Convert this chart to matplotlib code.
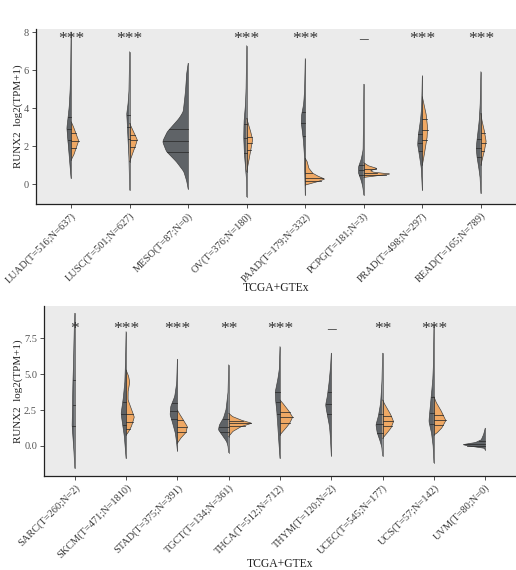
import numpy as np
import matplotlib
matplotlib.use("Agg")
import matplotlib.pyplot as plt

plt.rcParams['font.family'] = ['Liberation Serif', 'DejaVu Serif']

# ---------------- data ----------------
top_labels = ["LUAD(T=516;N=637)", "LUSC(T=501;N=627)", "MESO(T=87;N=0)", "OV(T=376;N=180)",
              "PAAD(T=179;N=332)", "PCPG(T=181;N=3)", "PRAD(T=498;N=297)", "READ(T=165;N=789)"]
top_sig = ["***", "***", "", "***", "***", "–", "***", "***"]

# tumour (grey, left half): violin outline knots (value, relative density width) and quartiles
top_tumor_y = [
    [0.3, 0.65, 1.37, 2.23, 2.93, 4.0, 4.9, 5.7, 8.0],
    [-0.32, 0.5, 1.37, 2.4, 3.1, 3.67, 4.16, 4.86, 6.96],
    [-0.26, 0.12, 0.65, 1.17, 1.7, 2.23, 2.75, 3.1, 3.46, 3.8, 4.86, 5.74, 6.35],
    [-0.67, 0.3, 0.65, 1.53, 2.4, 3.28, 4.16, 4.86, 7.28],
    [-0.58, 0.65, 1.35, 2.23, 2.75, 3.19, 3.63, 4.16, 4.86, 6.6],
    [-0.58, -0.14, 0.21, 0.56, 0.91, 1.26, 1.79, 3.1, 5.25],
    [-0.32, 0.3, 0.82, 1.44, 2.05, 2.58, 3.28, 3.98, 5.7],
    [-0.49, 0.3, 0.82, 1.35, 1.88, 2.4, 3.28, 4.16, 5.91],
]
top_tumor_w = [
    [0, 0.7, 1.7, 3.3, 4.3, 2.0, 1.0, 0.5, 0],
    [0, 0.3, 0.7, 1.7, 2.3, 3.0, 1.7, 0.7, 0],
    [0, 1.3, 4.3, 11.7, 21.7, 25.7, 21, 15, 9, 5, 2.7, 1.7, 0],
    [0, 0.3, 1.0, 2.3, 3.0, 2.7, 1.3, 0.7, 0],
    [0, 0.5, 0.7, 1.7, 3.0, 4.0, 3.7, 1.7, 0.7, 0],
    [0, 1.0, 2.7, 5.3, 5.3, 2.7, 0.7, 0.3, 0],
    [0, 0.5, 1.0, 2.7, 4.7, 4.0, 2.0, 0.7, 0],
    [0, 0.7, 2.0, 3.7, 4.7, 3.7, 1.7, 0.7, 0],
]
top_tumor_q = [[2.3, 2.9, 3.55], [2.35, 3.0, 3.65], [1.67, 2.26, 2.88], [1.61, 2.42, 3.18],
               [2.54, 3.19, 3.8], [0.5, 0.74, 1.0], [1.74, 2.14, 2.61], [1.44, 1.91, 2.35]]

# normal (orange, right half)
top_normal_y = [
    [1.26, 1.53, 1.88, 2.26, 2.75, 3.1, 3.28],
    [1.17, 1.6, 1.95, 2.32, 2.75, 3.19],
    [],
    [0.65, 1.0, 1.35, 1.88, 2.32, 2.75, 3.1, 3.46],
    [-0.05, 0.0, 0.12, 0.26, 0.39, 0.56, 0.82, 1.17, 1.35],
    [0.35, 0.42, 0.53, 0.62, 0.7, 0.82, 0.95, 1.12],
    [1.0, 1.35, 1.88, 2.4, 2.93, 3.63, 4.16, 4.6],
    [1.0, 1.35, 1.79, 2.23, 2.75, 3.28, 3.72],
]
top_normal_w = [
    [0, 2.7, 5.0, 7.7, 4.3, 1.7, 0],
    [0, 3.0, 5.5, 7.7, 4.0, 0],
    [],
    [0, 1.3, 2.7, 4.3, 6.0, 4.0, 2.0, 0],
    [0, 3.7, 12, 19.7, 13.7, 7.7, 3.7, 2.0, 0],
    [0, 12, 26.7, 10, 6.7, 13.3, 5, 0],
    [0, 1.3, 3.0, 4.7, 5.3, 4.0, 1.7, 0],
    [0, 1.7, 3.7, 5.3, 3.7, 1.3, 0],
]
top_normal_q = [[1.9, 2.26, 2.67], [1.95, 2.3, 2.6], [], [1.8, 2.15, 2.5],
                [0.18, 0.3, 0.6], [0.5, 0.6, 0.8], [2.32, 2.84, 3.42], [1.74, 2.17, 2.67]]

bot_labels = ["SARC(T=260;N=2)", "SKCM(T=471;N=1810)", "STAD(T=375;N=391)", "TGCT(T=134;N=361)",
              "THCA(T=512;N=712)", "THYM(T=120;N=2)", "UCEC(T=545;N=177)", "UCS(T=57;N=142)",
              "UVM(T=80;N=0)"]
bot_sig = ["*", "***", "***", "**", "***", "–", "**", "***", ""]

bot_tumor_y = [
    [-1.55, -0.51, 0.42, 1.34, 2.5, 4.13, 5.52, 7.84, 9.23],
    [-0.86, -0.28, 0.65, 1.58, 2.27, 3.2, 4.36, 5.98, 7.95],
    [-0.33, 0.19, 0.88, 1.58, 2.16, 2.74, 3.43, 4.36, 6.03],
    [-0.46, 0.0, 0.3, 0.77, 1.11, 1.46, 1.93, 2.5, 3.67, 5.64],
    [-0.86, -0.4, 0.42, 1.34, 2.27, 3.08, 3.78, 4.59, 5.29, 6.91],
    [-0.67, 0.42, 1.34, 2.27, 2.85, 3.43, 4.36, 5.52, 6.45],
    [-0.7, -0.1, 0.3, 0.88, 1.46, 2.04, 2.97, 4.36, 6.45],
    [-1.16, -0.05, 0.88, 1.69, 2.5, 3.43, 4.36, 5.52, 8.42],
    [-0.28, -0.16, 0.0, 0.09, 0.23, 0.42, 0.77, 1.23],
]
bot_tumor_w = [
    [0, 0.7, 1.7, 2.7, 2.3, 2.0, 1.3, 0.7, 0],
    [0, 0.7, 1.7, 3.7, 5.0, 3.0, 1.3, 0.5, 0],
    [0, 0.7, 2.0, 4.7, 7.3, 6.7, 2.7, 0.7, 0],
    [0, 0.7, 2.0, 6.7, 10.3, 9.3, 5.3, 2.7, 0.7, 0],
    [0, 0.5, 1.3, 2.0, 3.0, 4.3, 4.7, 2.3, 0.7, 0],
    [0, 0.7, 1.7, 4.3, 5.7, 4.0, 2.3, 0.7, 0],
    [0, 0.7, 2.3, 5.3, 6.7, 4.3, 2.0, 0.7, 0],
    [0, 0.7, 2.3, 5.0, 4.0, 2.7, 1.3, 0.5, 0],
    [0, 0.7, 16.7, 22.7, 10, 4, 1.7, 0],
]
bot_tumor_q = [[1.41, 2.83, 4.59], [1.46, 2.2, 3.08], [1.86, 2.44, 3.01], [0.95, 1.34, 1.9],
               [2.2, 3.08, 3.75], [2.25, 2.9, 3.75], [0.92, 1.5, 2.2], [1.5, 2.3, 3.43],
               [0.02, 0.12, 0.35]]

bot_normal_y = [
    [],
    [0.77, 0.88, 1.34, 2.0, 2.62, 3.2, 3.78, 4.41, 4.82, 5.29],
    [0.19, 0.53, 0.93, 1.34, 1.81, 2.16, 2.5],
    [0.65, 1.0, 1.34, 1.58, 1.76, 2.04, 2.27],
    [0.77, 1.11, 1.53, 2.0, 2.39, 2.85, 3.2],
    [],
    [0.53, 0.77, 1.23, 1.69, 2.16, 2.74, 3.2],
    [0.77, 0.88, 1.23, 1.76, 2.39, 2.97, 3.43],
    [],
]
bot_normal_w = [
    [],
    [0, 1.7, 5.3, 8.3, 5.0, 2.0, 2.0, 3.7, 2.7, 0],
    [0, 3.3, 8.7, 10, 6, 2.7, 0],
    [0, 4, 12.3, 23.3, 14, 4, 0],
    [0, 4.3, 9.3, 12.7, 9.3, 4.3, 0],
    [],
    [0, 3, 8.3, 11, 8.3, 3.3, 0],
    [0, 2.7, 7.7, 12, 7.7, 2.7, 0],
    [],
]
bot_normal_q = [[], [1.2, 1.7, 2.2], [0.95, 1.35, 1.8], [1.42, 1.6, 1.76], [1.62, 2.0, 2.35],
                [], [1.38, 1.72, 2.1], [1.45, 1.78, 2.12], []]

# ---------------- drawing ----------------
GREY = "#5F6367"
ORANGE = "#EFA864"
EDGE = "#3A3A3A"
BG = "#EBEBEB"
TXT = "#3A3A3A"


def half_violin(ax, x0, ys, ws, qs, side, color, scale):
    ys = np.asarray(ys, float)
    ws = np.asarray(ws, float) * scale
    grid = np.linspace(ys[0], ys[-1], 400)
    w = np.interp(grid, ys, ws)
    k = np.exp(-0.5 * (np.arange(-10, 11) / 4.0) ** 2)
    k /= k.sum()
    w = np.convolve(np.pad(w, 10, mode="edge"), k, mode="same")[10:-10]
    w[0] = w[-1] = 0
    xs = x0 + side * w
    ax.fill_betweenx(grid, x0, xs, facecolor=color, edgecolor="none", zorder=2)
    ax.plot(xs, grid, color=EDGE, lw=0.45, zorder=3)
    ax.plot([x0, x0], [ys[0], ys[-1]], color=EDGE, lw=0.45, zorder=3)
    for q in qs:
        wq = np.interp(q, grid, w)
        ax.plot([x0, x0 + side * wq], [q, q], color="#2B2B2B", lw=0.55, zorder=4)


def panel(ax, labels, sig, ty, tw, tq, ny, nw, nq, spacing_px, sig_y, ylim, yticks, yticklabels):
    ax.set_facecolor(BG)
    n = len(labels)
    scale = 1.0 / spacing_px
    for i in range(n):
        x0 = i + 1
        if len(ty[i]):
            half_violin(ax, x0, ty[i], tw[i], tq[i], -1, GREY, scale)
        if len(ny[i]):
            half_violin(ax, x0, ny[i], nw[i], nq[i], +1, ORANGE, scale)
        if sig[i]:
            ax.text(x0, sig_y, sig[i], ha="center", va="center", fontsize=12.5,
                    color="#333333", zorder=5)
    ax.set_xlim(0.4, n + 0.6)
    ax.set_ylim(*ylim)
    ax.set_xticks(np.arange(1, n + 1))
    ax.set_xticklabels(labels, rotation=45, ha="right", rotation_mode="anchor",
                       fontsize=7.5, color=TXT)
    ax.set_yticks(yticks)
    ax.set_yticklabels(yticklabels, fontsize=7.5, color="#555555")
    for s in ["top", "right"]:
        ax.spines[s].set_visible(False)
    for s in ["left", "bottom"]:
        ax.spines[s].set_color("#222222")
        ax.spines[s].set_linewidth(0.9)
    ax.tick_params(axis="both", length=3, width=0.6, color="#333333", pad=2)


W, H = 516, 570
fig = plt.figure(figsize=(W / 100, H / 100), dpi=100)
fig.patch.set_facecolor("white")

ax1 = fig.add_axes([36 / W, 1 - 204 / H, 1 - 36 / W, (204 - 29) / H])
panel(ax1, top_labels, top_sig, top_tumor_y, top_tumor_w, top_tumor_q,
      top_normal_y, top_normal_w, top_normal_q, 58.7, 7.65, (-1.05, 8.16),
      [0, 2, 4, 6, 8], ["0", "2", "4", "6", "8"])

ax2 = fig.add_axes([44 / W, 1 - 475.7 / H, 1 - 44 / W, (475.7 - 305.7) / H])
panel(ax2, bot_labels, bot_sig, bot_tumor_y, bot_tumor_w, bot_tumor_q,
      bot_normal_y, bot_normal_w, bot_normal_q, 51.4, 8.15, (-2.07, 9.76),
      [0, 2.5, 5.0, 7.5], ["0.0", "2.5", "5.0", "7.5"])

fig.text(18 / W, 1 - 116.5 / H, "RUNX2  log2(TPM+1)", rotation=90, ha="center", va="center",
         fontsize=7.9, color="#222222")
fig.text(18 / W, 1 - 390.7 / H, "RUNX2  log2(TPM+1)", rotation=90, ha="center", va="center",
         fontsize=7.9, color="#222222")
fig.text(0.5 * (36 + W) / W, 1 - 288 / H, "TCGA+GTEx", ha="center", va="center",
         fontsize=8.4, color="#222222")
fig.text(0.5 * (44 + W) / W, 1 - 564 / H, "TCGA+GTEx", ha="center", va="center",
         fontsize=8.4, color="#222222")

fig.savefig("out.png", dpi=100, facecolor="white")
